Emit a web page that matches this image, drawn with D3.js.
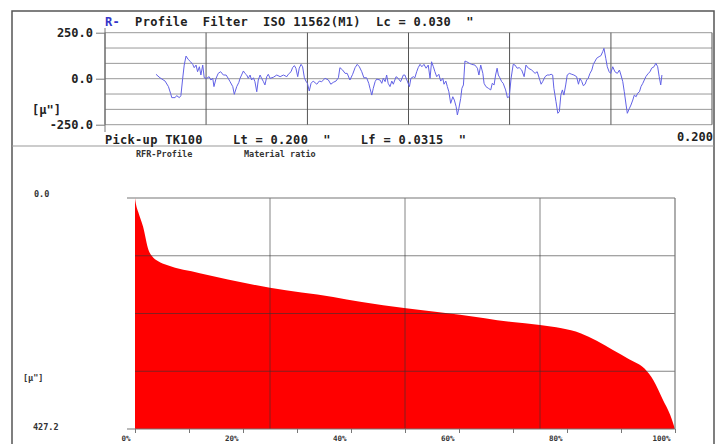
<!DOCTYPE html>
<html>
<head>
<meta charset="utf-8">
<script src="https://cdnjs.cloudflare.com/ajax/libs/d3/7.8.5/d3.min.js"></script>
<style>
  body { margin: 0; background: #fff; }
  text { font-family: "DejaVu Sans Mono", monospace; font-weight: bold; }
</style>
</head>
<body>
<div id="container"></div>
<script>
// R-profile, position along trace in inches
let profileX = [
  0.0168,0.0181,0.0198,0.0209,0.0216,0.0220,0.0231,0.0236,0.0245,0.0250,
  0.0256,0.0261,0.0267,0.0274,0.0282,0.0289,0.0294,0.0300,0.0305,0.0311,
  0.0316,0.0322,0.0327,0.0335,0.0343,0.0349,0.0355,0.0359,0.0366,0.0373,
  0.0381,0.0390,0.0399,0.0406,0.0412,0.0421,0.0426,0.0434,0.0441,0.0445,
  0.0450,0.0456,0.0461,0.0467,0.0472,0.0478,0.0483,0.0489,0.0494,0.0500,
  0.0505,0.0511,0.0516,0.0522,0.0527,0.0533,0.0538,0.0544,0.0555,0.0566,
  0.0577,0.0588,0.0599,0.0604,0.0613,0.0618,0.0624,0.0629,0.0635,0.0640,
  0.0646,0.0651,0.0657,0.0662,0.0667,0.0673,0.0679,0.0686,0.0698,0.0706,
  0.0714,0.0725,0.0736,0.0744,0.0752,0.0761,0.0769,0.0774,0.0783,0.0791,
  0.0798,0.0807,0.0816,0.0824,0.0831,0.0838,0.0846,0.0853,0.0862,0.0869,
  0.0873,0.0879,0.0884,0.0890,0.0895,0.0906,0.0912,0.0917,0.0923,0.0928,
  0.0933,0.0939,0.0945,0.0950,0.0959,0.0966,0.0974,0.0983,0.0988,0.0996,
  0.1003,0.1008,0.1016,0.1021,0.1027,0.1032,0.1038,0.1044,0.1051,0.1058,
  0.1065,0.1071,0.1076,0.1082,0.1087,0.1093,0.1100,0.1106,0.1113,0.1117,
  0.1123,0.1128,0.1133,0.1139,0.1146,0.1151,0.1157,0.1161,0.1166,0.1172,
  0.1176,0.1181,0.1186,0.1192,0.1200,0.1208,0.1219,0.1227,0.1232,0.1238,
  0.1245,0.1249,0.1255,0.1263,0.1271,0.1276,0.1282,0.1287,0.1292,0.1296,
  0.1301,0.1307,0.1312,0.1320,0.1326,0.1332,0.1338,0.1345,0.1351,0.1358,
  0.1365,0.1373,0.1381,0.1387,0.1395,0.1406,0.1417,0.1424,0.1431,0.1437,
  0.1442,0.1450,0.1457,0.1464,0.1470,0.1475,0.1479,0.1486,0.1492,0.1497,
  0.1502,0.1507,0.1512,0.1518,0.1523,0.1530,0.1538,0.1545,0.1554,0.1560,
  0.1565,0.1571,0.1576,0.1582,0.1587,0.1592,0.1598,0.1604,0.1609,0.1615,
  0.1620,0.1628,0.1634,0.1640,0.1644,0.1650,0.1655,0.1661,0.1666,0.1673,
  0.1680,0.1688,0.1695,0.1700,0.1706,0.1711,0.1717,0.1721,0.1728,0.1733,
  0.1739,0.1744,0.1750,0.1755,0.1761,0.1766,0.1772,0.1777,0.1782,0.1790,
  0.1796,0.1801,0.1809,0.1815,0.1821,0.1826,0.1831,0.1835
];
// profile height in micro-inches
let profileY = [
  24,5,-13,-43,-79,-103,-103,-92,-103,-92,
  2,74,123,105,92,78,60,74,38,65,
  20,74,5,2,11,-7,2,-43,2,29,
  38,20,20,2,-16,-43,-85,-43,-20,2,
  20,42,29,20,2,20,-7,5,-16,-71,
  -7,20,2,-16,-34,11,24,2,8,20,
  11,20,11,24,38,60,71,57,11,57,
  78,65,5,-13,-25,-67,-25,-13,-30,-13,
  -16,2,-7,-30,-20,-13,5,60,47,29,
  29,-7,24,60,78,65,38,5,5,-25,
  -52,-89,-52,-16,-2,-7,-25,2,-16,20,
  -25,-43,-13,-30,11,2,-16,20,20,-13,
  -43,2,11,5,38,60,78,65,78,57,
  74,2,92,65,38,11,24,-13,2,-30,
  -13,-43,-71,-134,-98,-116,-152,-197,-161,-107,
  -52,-34,96,92,84,78,74,57,20,74,
  29,-25,-43,-52,-61,-25,-34,20,57,20,
  5,-16,-25,-61,-103,-98,2,78,74,57,
  60,47,11,74,57,47,29,38,2,-30,
  -16,11,20,20,24,20,-52,-125,-188,-179,
  -89,-61,-89,-34,20,29,24,20,11,-30,
  2,-16,-38,-30,-7,2,29,47,78,96,
  111,120,125,147,165,111,65,38,29,65,
  38,29,47,20,-16,-71,-143,-188,-161,-143,
  -116,-89,-98,-79,-71,-43,-25,-7,11,29,
  38,57,65,84,65,11,-34,20
];
let profileTicks = [250, 0, -250];
let profileGrid = [-250, -166.7, -83.3, 0, 83.3, 166.7, 250];
let profileCols = [0, 0.0333, 0.0667, 0.1, 0.1333, 0.1667, 0.2];

// material ratio curve (Abbott-Firestone)
let ratioPct   = [0, 0.1, 0.6, 1.5, 2.5, 3.1, 4.3, 5.9, 12.0, 25.0, 36.7, 41.7, 50.2, 60.2, 69.4, 75.0, 79.0, 82.5, 85.5, 88.5, 91.5, 94.4, 96.0, 97.8, 99.1, 100];
let ratioDepth = [0, 7, 26, 53, 96, 107, 117, 124, 139, 166, 183, 192, 204, 216, 229, 235, 241, 250, 264, 281, 298, 316, 337, 374, 401, 427.2];
let ratioLabels = [0, 20, 40, 60, 80, 100];
let ratioTicks = [0, 10, 20, 30, 40, 50, 60, 70, 80, 90, 100];
let ratioCols = [25, 50, 75];
let ratioRows = [106.8, 213.6, 320.4];

let w = 722;
let h = 444;
let viz = d3.select("#container")
  .append("svg")
    .attr("width", w)
    .attr("height", h)
;

// outer frame + panel separator
viz.append("rect")
  .attr("x", 12).attr("y", 11)
  .attr("width", 702).attr("height", 450)
  .attr("fill", "none")
  .attr("stroke", "#555")
  .attr("stroke-width", 1.5);
viz.append("line")
  .attr("x1", 12).attr("x2", 714).attr("y1", 146).attr("y2", 146)
  .attr("stroke", "#999").attr("stroke-width", 1);

// ---------- top panel: roughness profile ----------
let xScale = d3.scaleLinear().domain([0, 0.2]).range([105, 712]);
let yScale = d3.scaleLinear().domain([-250, 250]).range([124.7, 32.7]);

viz.append("g").selectAll("line").data(profileGrid).enter().append("line")
  .attr("x1", xScale(0)).attr("x2", xScale(0.2))
  .attr("y1", d => yScale(d)).attr("y2", d => yScale(d))
  .attr("stroke", "#999").attr("stroke-width", 1);

viz.append("g").selectAll("line").data(profileCols).enter().append("line")
  .attr("x1", d => xScale(d)).attr("x2", d => xScale(d))
  .attr("y1", yScale(250)).attr("y2", yScale(-250))
  .attr("stroke", "#555").attr("stroke-width", 1);

// left axis line runs a bit past the grid
viz.append("line")
  .attr("x1", xScale(0)).attr("x2", xScale(0))
  .attr("y1", 28).attr("y2", 132)
  .attr("stroke", "#777");

let yAxis = d3.axisLeft(yScale)
  .tickValues(profileTicks)
  .tickSize(9)
  .tickPadding(3)
  .tickFormat(d => d.toFixed(1));
let yAxisGroup = viz.append("g")
  .attr("transform", "translate(" + xScale(0) + ",0)")
  .call(yAxis);
yAxisGroup.select(".domain").remove();
yAxisGroup.selectAll("line").attr("stroke", "#777");
yAxisGroup.selectAll("text")
  .style("font-family", "DejaVu Sans Mono")
  .style("font-weight", "bold")
  .style("font-size", "12px")
  .attr("fill", "#222");

let lineMaker = d3.line()
  .x((d, i) => xScale(profileX[i]))
  .y(d => yScale(d));

viz.append("path")
  .datum(profileY)
  .attr("d", lineMaker)
  .attr("fill", "none")
  .attr("stroke", "#6262e6")
  .attr("stroke-width", 1);

let bigFont = "12px";
viz.append("text")
  .attr("x", 105).attr("y", 26)
  .style("font-size", bigFont)
  .style("letter-spacing", "0.3px")
  .style("white-space", "pre")
  .call(t => {
    t.append("tspan").attr("fill", "#3535c8").text("R-");
    t.append("tspan").attr("fill", "#222").text("  Profile  Filter  ISO 11562(M1)  Lc = 0.030  \"");
  });

viz.append("text")
  .attr("x", 32).attr("y", 114)
  .style("font-size", bigFont)
  .attr("fill", "#222")
  .text("[µ\"]");

viz.append("text")
  .attr("x", 105).attr("y", 143.5)
  .style("font-size", bigFont)
  .style("letter-spacing", "0.3px")
  .style("white-space", "pre")
  .attr("fill", "#222")
  .text("Pick-up TK100    Lt = 0.200  \"    Lf = 0.0315  \"");

viz.append("text")
  .attr("x", 713).attr("y", 141)
  .attr("text-anchor", "end")
  .style("font-size", bigFont)
  .attr("fill", "#222")
  .text("0.200");

// ---------- bottom panel: material ratio ----------
let rx = d3.scaleLinear().domain([0, 100]).range([135, 675]);
let ry = d3.scaleLinear().domain([0, 427.2]).range([198, 429]);

let smallFont = "8.5px";
viz.append("text").attr("x", 136).attr("y", 157)
  .style("font-size", smallFont).attr("fill", "#333").text("RFR-Profile");
viz.append("text").attr("x", 244).attr("y", 157)
  .style("font-size", smallFont).attr("fill", "#333").text("Material ratio");
viz.append("text").attr("x", 34).attr("y", 197)
  .style("font-size", smallFont).attr("fill", "#333").text("0.0");
viz.append("text").attr("x", 23).attr("y", 381)
  .style("font-size", smallFont).attr("fill", "#333").text("[µ\"]");
viz.append("text").attr("x", 33).attr("y", 429.5)
  .style("font-size", smallFont).attr("fill", "#333").text("427.2");

let areaMaker = d3.area()
  .x((d, i) => rx(ratioPct[i]))
  .y0(ry(427.2))
  .y1(d => ry(d))
  .curve(d3.curveMonotoneX);

viz.append("path")
  .datum(ratioDepth)
  .attr("d", areaMaker)
  .attr("fill", "#ff0000");

// grid over the fill
viz.append("g").selectAll("line").data(ratioCols).enter().append("line")
  .attr("x1", d => rx(d)).attr("x2", d => rx(d))
  .attr("y1", ry(0)).attr("y2", ry(427.2))
  .attr("stroke", "#333").attr("stroke-opacity", 0.6);
viz.append("g").selectAll("line").data(ratioRows).enter().append("line")
  .attr("x1", rx(0)).attr("x2", rx(100))
  .attr("y1", d => ry(d)).attr("y2", d => ry(d))
  .attr("stroke", "#333").attr("stroke-opacity", 0.6);

// frame of the ratio plot
viz.append("line")
  .attr("x1", 127).attr("x2", rx(100)).attr("y1", ry(0)).attr("y2", ry(0))
  .attr("stroke", "#777").attr("stroke-width", 1.2);
viz.append("line")
  .attr("x1", rx(100)).attr("x2", rx(100)).attr("y1", ry(0)).attr("y2", ry(427.2))
  .attr("stroke", "#777").attr("stroke-width", 1.2);
viz.append("line")
  .attr("x1", 127).attr("x2", rx(100)).attr("y1", ry(427.2)).attr("y2", ry(427.2))
  .attr("stroke", "#777").attr("stroke-width", 1.2);

let xAxis = d3.axisBottom(rx)
  .tickValues(ratioTicks)
  .tickSize(4)
  .tickPadding(3)
  .tickFormat(d => ratioLabels.includes(d) ? d + "%" : "");
let xAxisGroup = viz.append("g")
  .attr("transform", "translate(0," + ry(427.2) + ")")
  .call(xAxis);
xAxisGroup.select(".domain").remove();
xAxisGroup.selectAll("line").attr("stroke", "#777");
xAxisGroup.selectAll("text")
  .attr("text-anchor", "end")
  .attr("dx", -5)
  .style("font-family", "DejaVu Sans Mono")
  .style("font-weight", "bold")
  .style("font-size", "7.5px")
  .attr("fill", "#333");
</script>
</body>
</html>
